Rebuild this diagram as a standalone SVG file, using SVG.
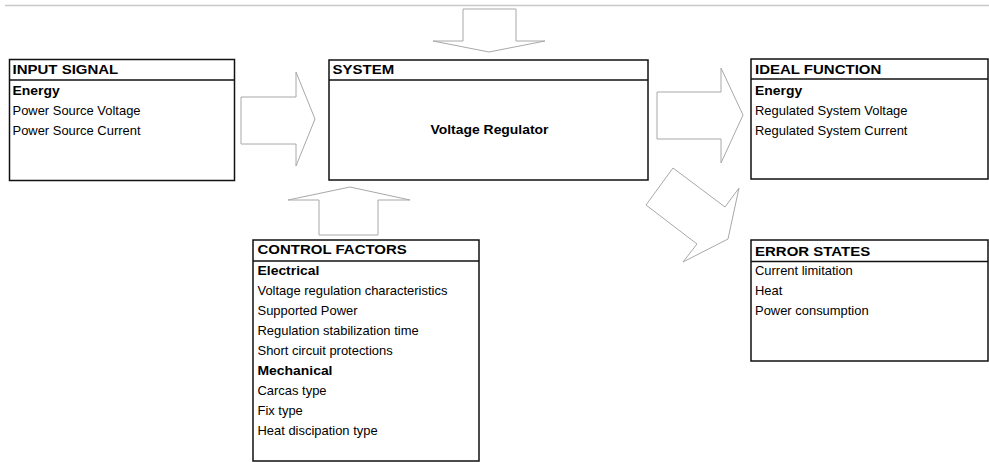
<svg xmlns="http://www.w3.org/2000/svg" width="989" height="462" viewBox="0 0 989 462">
<style>
  .box{fill:#fff;stroke:#111;stroke-width:1.5}
  .div{stroke:#111;stroke-width:1.5}
  .arr{fill:#fff;stroke:#a8a8a8;stroke-width:1;stroke-linejoin:miter}
  text{font-family:"Liberation Sans",Arial,sans-serif;fill:#000}
  .h{font-size:12.5px;font-weight:bold}
  .b{font-size:12px;font-weight:bold}
  .t{font-size:12px}
</style>
<rect width="989" height="462" fill="#fff"/>
<line x1="5" y1="5.5" x2="989" y2="5.5" stroke="#c8c8c8" stroke-width="1.5"/>
<g id="connectors">
  <polygon class="arr" points="241,97 296,97 296,72 315,119 296,166 296,144 241,144"/>
  <polygon class="arr" points="463,9 516,9 516,41 545,41 489,52 433,41 463,41"/>
  <polygon class="arr" points="319,235 319,200 288,200 350,187 410,200 378,200 378,235"/>
  <polygon class="arr" points="657,92 721,92 721,68 743,115 721,163 721,139 657,139"/>
  <polygon class="arr" points="673,168 725,207 739,188 728,239 683,262 697,244 646,205"/>
</g>
<g id="input-signal">
  <rect class="box" x="9.5" y="59.5" width="225" height="121"/>
  <line class="div" x1="9.5" y1="80" x2="234.5" y2="80"/>
  <text class="h" transform="translate(12.5,74) scale(1.2,1)">INPUT SIGNAL</text>
  <text class="b" transform="translate(12.5,95) scale(1.16,1)">Energy</text>
  <text class="t" transform="translate(12.5,115) scale(1.08,1)">Power Source Voltage</text>
  <text class="t" transform="translate(12.5,135) scale(1.08,1)">Power Source Current</text>
</g>
<g id="system">
  <rect class="box" x="329" y="60" width="319" height="120"/>
  <line class="div" x1="329" y1="80" x2="648" y2="80"/>
  <text class="h" transform="translate(332.5,74) scale(1.2,1)">SYSTEM</text>
  <text class="b" text-anchor="middle" transform="translate(489.5,134) scale(1.16,1)">Voltage Regulator</text>
</g>
<g id="ideal-function">
  <rect class="box" x="751" y="59" width="237" height="120"/>
  <line class="div" x1="751" y1="79" x2="988" y2="79"/>
  <text class="h" transform="translate(755,74) scale(1.2,1)">IDEAL FUNCTION</text>
  <text class="b" transform="translate(755,95) scale(1.16,1)">Energy</text>
  <text class="t" transform="translate(755,115) scale(1.08,1)">Regulated System Voltage</text>
  <text class="t" transform="translate(755,134.5) scale(1.08,1)">Regulated System Current</text>
</g>
<g id="control-factors">
  <rect class="box" x="253" y="240" width="226" height="221"/>
  <line class="div" x1="253" y1="261" x2="479" y2="261"/>
  <text class="h" transform="translate(257.5,254) scale(1.2,1)">CONTROL FACTORS</text>
  <text class="b" transform="translate(257.5,275) scale(1.16,1)">Electrical</text>
  <text class="t" transform="translate(257.5,295) scale(1.08,1)">Voltage regulation characteristics</text>
  <text class="t" transform="translate(257.5,315) scale(1.08,1)">Supported Power</text>
  <text class="t" transform="translate(257.5,335) scale(1.08,1)">Regulation stabilization time</text>
  <text class="t" transform="translate(257.5,355) scale(1.08,1)">Short circuit protections</text>
  <text class="b" transform="translate(257.5,375) scale(1.16,1)">Mechanical</text>
  <text class="t" transform="translate(257.5,395) scale(1.08,1)">Carcas type</text>
  <text class="t" transform="translate(257.5,415) scale(1.08,1)">Fix type</text>
  <text class="t" transform="translate(257.5,435) scale(1.08,1)">Heat discipation type</text>
</g>
<g id="error-states">
  <rect class="box" x="751" y="240" width="237" height="121"/>
  <line class="div" x1="751" y1="261.5" x2="988" y2="261.5"/>
  <text class="h" transform="translate(755,256) scale(1.2,1)">ERROR STATES</text>
  <text class="t" transform="translate(755,275) scale(1.08,1)">Current limitation</text>
  <text class="t" transform="translate(755,295) scale(1.08,1)">Heat</text>
  <text class="t" transform="translate(755,315) scale(1.08,1)">Power consumption</text>
</g>
</svg>
